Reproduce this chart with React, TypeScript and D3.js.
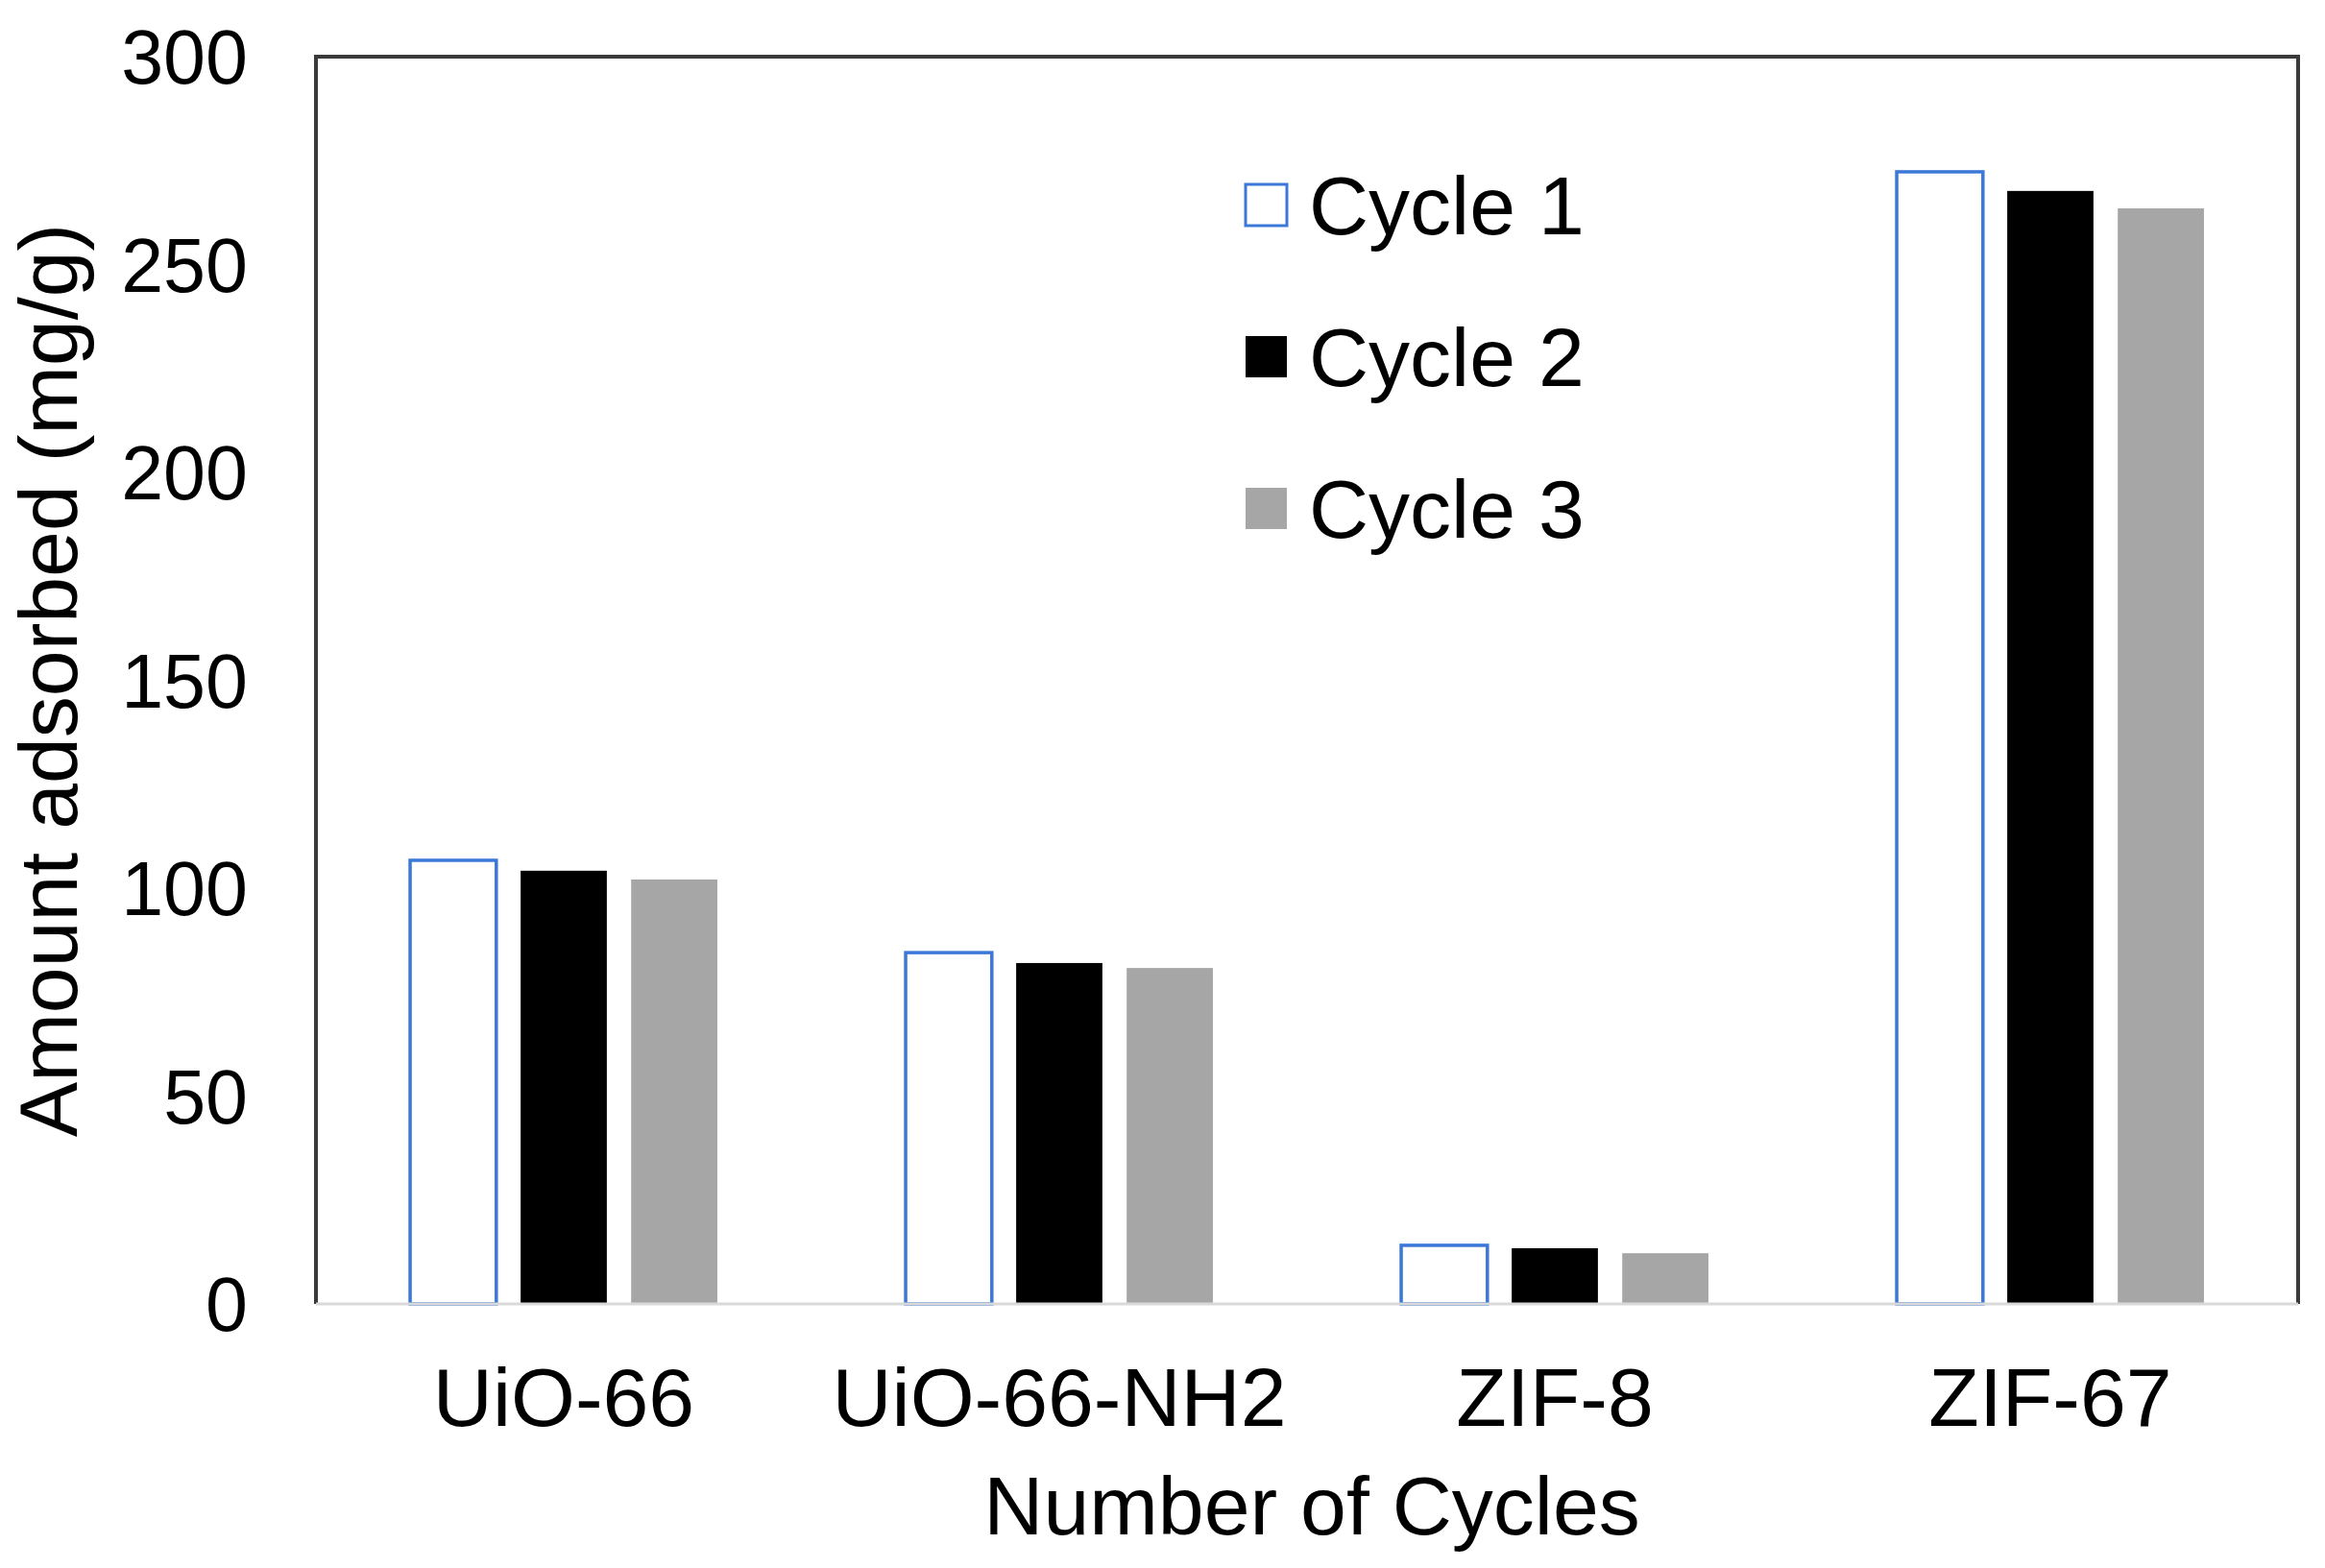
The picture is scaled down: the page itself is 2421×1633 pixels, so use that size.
import * as d3 from "d3";
import React, { useEffect, useRef } from "react";

const categories = ["UiO-66", "UiO-66-NH2", "ZIF-8", "ZIF-67"];
const seriesNames = ["Cycle 1", "Cycle 2", "Cycle 3"];
const cycle1 = [106.7, 84.5, 14.1, 272.3];
const cycle2 = [104.2, 82.0, 13.4, 267.7];
const cycle3 = [102.1, 80.8, 12.2, 263.5];
const yTicks = [0, 50, 100, 150, 200, 250, 300];

const WIDTH = 2421;
const HEIGHT = 1633;
const margin = { top: 59, right: 28, bottom: 275, left: 329 };
const FONT = "'Liberation Sans', Arial, Helvetica, sans-serif";
const BLUE = "#3C78D8";

const styles = [
  { fill: "#ffffff", stroke: BLUE },
  { fill: "#000000", stroke: "none" },
  { fill: "#a6a6a6", stroke: "none" }
];

export default function App() {
  const ref = useRef<SVGSVGElement>(null);

  useEffect(() => {
    const root = d3.select(ref.current);
    root.selectAll("*").remove();

    const w = WIDTH - margin.left - margin.right;
    const h = HEIGHT - margin.top - margin.bottom;
    const svg = root
      .append("g")
      .attr("transform", "translate(" + margin.left + "," + margin.top + ")");

    const series = [cycle1, cycle2, cycle3];

    // category bands, Excel style: half gap at each end
    const x0 = d3
      .scaleBand()
      .domain(categories)
      .range([0, w])
      .paddingInner(0.38)
      .paddingOuter(0.19);
    const x1 = d3
      .scaleBand()
      .domain(seriesNames)
      .range([0, x0.bandwidth()])
      .paddingInner(0.22)
      .paddingOuter(0);
    const y = d3.scaleLinear().domain([0, 300]).range([h, 0]);

    // bars
    series.forEach((values, si) => {
      svg
        .append("g")
        .selectAll("rect")
        .data(values)
        .enter()
        .append("rect")
        .attr("x", (d, i) => (x0(categories[i]) as number) + (x1(seriesNames[si]) as number))
        .attr("y", d => y(d))
        .attr("width", x1.bandwidth())
        .attr("height", d => h - y(d))
        .style("fill", styles[si].fill)
        .style("stroke", styles[si].stroke)
        .style("stroke-width", si === 0 ? 3.5 : 0);
    });

    // plot frame: top, left, right dark; bottom is the light axis line
    svg
      .append("path")
      .attr("d", "M0," + h + "V0H" + w + "V" + h)
      .style("fill", "none")
      .style("stroke", "#3a3a3a")
      .style("stroke-width", 4);
    svg
      .append("line")
      .attr("x1", 0)
      .attr("x2", w)
      .attr("y1", h)
      .attr("y2", h)
      .style("stroke", "#d9d9d9")
      .style("stroke-width", 3);

    // y tick labels
    svg
      .append("g")
      .selectAll("text")
      .data(yTicks)
      .enter()
      .append("text")
      .attr("x", -71)
      .attr("y", d => y(d))
      .attr("dy", "0.36em")
      .attr("text-anchor", "end")
      .style("font-family", FONT)
      .style("font-size", "79px")
      .text(d => d);

    // category labels
    svg
      .append("g")
      .selectAll("text")
      .data(categories)
      .enter()
      .append("text")
      .attr("x", d => (x0(d) as number) + x0.bandwidth() / 2)
      .attr("y", h + 127)
      .attr("text-anchor", "middle")
      .style("font-family", FONT)
      .style("font-size", "86px")
      .text(d => d);

    // axis titles
    svg
      .append("text")
      .attr("x", w / 2 + 5)
      .attr("y", h + 240)
      .attr("text-anchor", "middle")
      .style("font-family", FONT)
      .style("font-size", "86px")
      .text("Number of Cycles");
    svg
      .append("text")
      .attr("transform", "translate(" + (80 - margin.left) + "," + h / 2 + ") rotate(-90)")
      .attr("text-anchor", "middle")
      .style("font-family", FONT)
      .style("font-size", "86px")
      .text("Amount adsorbed (mg/g)");

    // legend
    const legend = svg
      .append("g")
      .attr("transform", "translate(" + (1297 - margin.left) + "," + (213 - margin.top) + ")");
    seriesNames.forEach((name, i) => {
      const row = legend.append("g").attr("transform", "translate(0," + i * 158 + ")");
      row
        .append("rect")
        .attr("x", 0)
        .attr("y", -21)
        .attr("width", 43)
        .attr("height", 43)
        .style("fill", styles[i].fill)
        .style("stroke", styles[i].stroke)
        .style("stroke-width", i === 0 ? 3 : 0);
      row
        .append("text")
        .attr("x", 66)
        .attr("y", 0)
        .attr("dy", "0.36em")
        .style("font-family", FONT)
        .style("font-size", "86px")
        .text(name);
    });
  }, []);

  return (
    <svg
      ref={ref}
      width={WIDTH}
      height={HEIGHT}
      style={{ position: "absolute", left: 0, top: 0, background: "#fff" }}
    />
  );
}
